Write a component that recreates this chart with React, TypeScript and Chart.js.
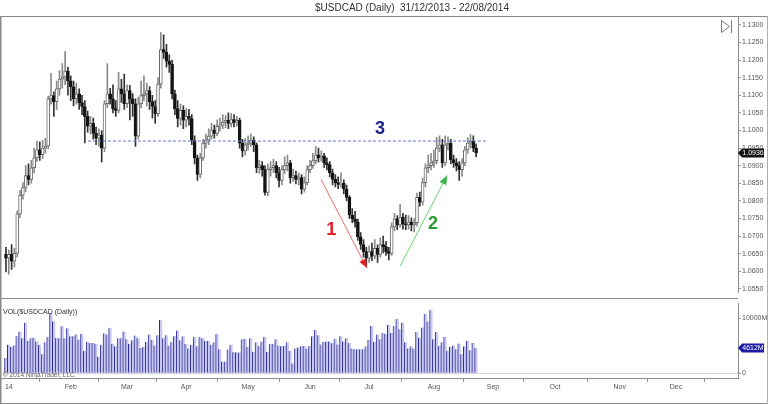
import React, { useEffect, useRef } from "react";
import { Chart, registerables } from "chart.js";
Chart.register(...registerables);

const TITLE = "$USDCAD (Daily)  31/12/2013 - 22/08/2014";
const VOL_TITLE = "VOL($USDCAD (Daily))";
const COPYRIGHT = "© 2014 NinjaTrader, LLC";

const opens = [1.0648,1.0637,1.0648,1.0629,1.0651,1.0763,1.0816,1.0838,1.0872,1.0861,
1.0894,1.0922,1.0945,1.0931,1.0950,1.0956,1.1090,1.1099,1.1082,1.1118,
1.1146,1.1152,1.1169,1.1141,1.1124,1.1090,1.1104,1.1079,1.1068,1.1040,
1.1012,1.1020,1.0992,1.0978,1.0987,1.0950,1.1076,1.1104,1.1090,1.1062,
1.1057,1.1118,1.1104,1.1076,1.1113,1.1090,1.1076,1.0984,1.1076,1.1099,
1.1104,1.1113,1.1082,1.1068,1.1048,1.1132,1.1230,1.1222,1.1197,1.1188,
1.1104,1.1062,1.1034,1.1057,1.1029,1.1040,1.1034,1.0973,1.0922,1.0875,
1.0922,1.0964,1.0973,1.0984,1.1001,1.0992,1.1012,1.1015,1.1023,1.1029,
1.1020,1.1031,1.1023,1.1029,1.0964,1.0942,1.0959,1.0964,1.0973,1.0959,
1.0894,1.0900,1.0889,1.0824,1.0889,1.0894,1.0900,1.0880,1.0858,1.0889,
1.0900,1.0908,1.0866,1.0872,1.0861,1.0866,1.0833,1.0852,1.0889,1.0900,
1.0914,1.0931,1.0922,1.0928,1.0908,1.0903,1.0880,1.0861,1.0852,1.0847,
1.0850,1.0833,1.0810,1.0760,1.0749,1.0740,1.0698,1.0676,1.0656,1.0637,
1.0656,1.0643,1.0665,1.0648,1.0676,1.0670,1.0656,1.0651,1.0726,1.0749,
1.0732,1.0754,1.0735,1.0732,1.0740,1.0732,1.0738,1.0810,1.0796,1.0852,
1.0894,1.0900,1.0908,1.0914,1.0950,1.0959,1.0908,1.0959,1.0964,1.0917,
1.0908,1.0900,1.0889,1.0908,1.0945,1.0964,1.0970,1.0950];

const highs = [1.0668,1.0660,1.0676,1.0665,1.0772,1.0830,1.0852,1.0900,1.0905,1.0915,
1.0950,1.0970,1.0968,1.0972,1.0978,1.1098,1.1162,1.1110,1.1140,1.1170,
1.1190,1.1224,1.1180,1.1155,1.1140,1.1135,1.1118,1.1100,1.1085,1.1055,
1.1040,1.1035,1.1010,1.1005,1.1000,1.1085,1.1190,1.1120,1.1130,1.1085,
1.1165,1.1145,1.1160,1.1130,1.1128,1.1105,1.1090,1.1095,1.1140,1.1155,
1.1135,1.1125,1.1100,1.1085,1.1150,1.1278,1.1272,1.1245,1.1215,1.1200,
1.1115,1.1085,1.1075,1.1070,1.1062,1.1060,1.1045,1.0985,1.0930,1.0935,
1.0975,1.0990,1.1005,1.1020,1.1015,1.1030,1.1035,1.1045,1.1042,1.1050,
1.1048,1.1045,1.1040,1.1035,1.0975,1.0978,1.0985,1.0990,1.0982,1.0965,
1.0915,1.0912,1.0900,1.0905,1.0912,1.0918,1.0912,1.0895,1.0900,1.0925,
1.0930,1.0915,1.0890,1.0885,1.0880,1.0875,1.0868,1.0900,1.0915,1.0935,
1.0955,1.0950,1.0942,1.0935,1.0922,1.0912,1.0890,1.0875,1.0868,1.0880,
1.0860,1.0845,1.0815,1.0778,1.0770,1.0748,1.0710,1.0690,1.0668,1.0672,
1.0680,1.0690,1.0675,1.0695,1.0700,1.0685,1.0668,1.0738,1.0765,1.0758,
1.0790,1.0765,1.0760,1.0758,1.0752,1.0750,1.0822,1.0825,1.0865,1.0905,
1.0930,1.0935,1.0945,1.0980,1.0985,1.0975,1.0985,1.0982,1.0975,1.0930,
1.0920,1.0912,1.0920,1.0955,1.0980,1.0988,1.0985,1.0962];

const lows = [1.0598,1.0592,1.0605,1.0612,1.0640,1.0752,1.0805,1.0826,1.0845,1.0850,
1.0880,1.0912,1.0915,1.0920,1.0935,1.0948,1.1075,1.1040,1.1060,1.1100,
1.1120,1.1130,1.1100,1.1085,1.1070,1.1075,1.1060,1.1045,1.0965,1.0995,
1.0990,1.0975,1.0960,1.0955,1.0911,1.0940,1.1065,1.1075,1.1050,1.1040,
1.1050,1.1080,1.1060,1.1065,1.1030,1.1040,1.0955,1.0975,1.1065,1.1085,
1.1070,1.1060,1.1035,1.1020,1.1040,1.1120,1.1205,1.1180,1.1165,1.1090,
1.1045,1.1010,1.1015,1.1005,1.1010,1.1015,1.0960,1.0905,1.0858,1.0865,
1.0915,1.0950,1.0960,1.0975,1.0978,1.0985,1.0998,1.1005,1.1008,1.1005,
1.1010,1.1010,1.1012,1.0950,1.0925,1.0930,1.0945,1.0955,1.0940,1.0880,
1.0878,1.0870,1.0816,1.0815,1.0870,1.0880,1.0865,1.0840,1.0845,1.0878,
1.0885,1.0850,1.0855,1.0848,1.0845,1.0820,1.0825,1.0845,1.0880,1.0892,
1.0905,1.0910,1.0912,1.0895,1.0888,1.0868,1.0845,1.0840,1.0835,1.0838,
1.0820,1.0800,1.0750,1.0738,1.0725,1.0688,1.0662,1.0640,1.0618,1.0625,
1.0630,1.0635,1.0625,1.0640,1.0652,1.0645,1.0632,1.0645,1.0715,1.0718,
1.0725,1.0720,1.0718,1.0720,1.0715,1.0712,1.0728,1.0785,1.0788,1.0840,
1.0880,1.0888,1.0895,1.0905,1.0940,1.0895,1.0900,1.0945,1.0905,1.0895,
1.0885,1.0858,1.0870,1.0900,1.0935,1.0950,1.0940,1.0925];

const closes = [1.0637,1.0648,1.0629,1.0651,1.0763,1.0816,1.0838,1.0872,1.0861,1.0894,
1.0922,1.0945,1.0931,1.0950,1.0956,1.1090,1.1099,1.1082,1.1118,1.1146,
1.1152,1.1169,1.1141,1.1124,1.1090,1.1104,1.1079,1.1068,1.1040,1.1012,
1.1020,1.0992,1.0978,1.0987,1.0950,1.1076,1.1104,1.1090,1.1062,1.1057,
1.1118,1.1104,1.1076,1.1113,1.1090,1.1076,1.0984,1.1076,1.1099,1.1104,
1.1113,1.1082,1.1068,1.1048,1.1132,1.1230,1.1222,1.1197,1.1188,1.1104,
1.1062,1.1034,1.1057,1.1029,1.1040,1.1034,1.0973,1.0922,1.0875,1.0922,
1.0964,1.0973,1.0984,1.1001,1.0992,1.1012,1.1015,1.1023,1.1029,1.1020,
1.1031,1.1023,1.1029,1.0964,1.0942,1.0959,1.0964,1.0973,1.0959,1.0894,
1.0900,1.0889,1.0824,1.0889,1.0894,1.0900,1.0880,1.0858,1.0889,1.0900,
1.0908,1.0866,1.0872,1.0861,1.0866,1.0833,1.0852,1.0889,1.0900,1.0914,
1.0931,1.0922,1.0928,1.0908,1.0903,1.0880,1.0861,1.0852,1.0847,1.0850,
1.0833,1.0810,1.0760,1.0749,1.0740,1.0698,1.0676,1.0656,1.0637,1.0656,
1.0643,1.0665,1.0648,1.0676,1.0670,1.0656,1.0651,1.0726,1.0749,1.0732,
1.0754,1.0735,1.0732,1.0740,1.0732,1.0738,1.0810,1.0796,1.0852,1.0894,
1.0900,1.0908,1.0914,1.0950,1.0959,1.0908,1.0959,1.0964,1.0917,1.0908,
1.0900,1.0889,1.0908,1.0945,1.0964,1.0970,1.0950,1.0936];

// volume in millions
const volumes = [2800,5200,4800,5050,6740,7580,6350,9160,5900,6350,
6460,5790,5170,3480,5620,6630,10950,9440,6460,6350,
8540,6350,8150,6740,6740,7020,6070,7130,4100,5730,
5510,5510,5340,2980,5170,7250,7020,8260,5340,4890,
6350,6350,7580,6180,5340,6010,6850,6350,4610,4780,
5730,7020,6070,5060,6910,9720,6350,6910,5060,5730,
6740,7750,6010,6740,5340,4490,5170,6570,4890,6630,
6350,5900,5900,5170,5620,7190,4380,2130,2130,4330,
5170,3820,3820,3760,6180,6290,4780,6350,3930,5620,
4940,5790,6630,3930,5340,5340,6180,5060,4890,4940,
5620,4040,1800,4490,4660,4890,4940,4490,4940,6740,
7870,6910,5220,5730,5790,5790,5450,6290,5220,6740,
5790,6350,5510,4490,4380,4380,4380,4380,4890,6070,
8600,5730,7020,6180,7300,7130,8820,7300,8600,9830,
7980,9160,5620,4490,4890,4490,7470,6460,8310,10790,
9380,11520,6180,7470,4940,5620,6630,4040,4780,5060,
4380,5400,3480,4890,5900,4200,5500,4612];

// x axis: bar index of the first trading day of each month
const monthTickBars = [1, 23, 43, 64, 86, 108, 129, 152, 173, 195, 218, 238];
const monthLabels = ["14", "Feb", "Mar", "Apr", "May", "Jun", "Jul", "Aug", "Sep", "Oct", "Nov", "Dec"];
const priceTicks = [1.055,1.06,1.065,1.07,1.075,1.08,1.085,1.09,1.095,1.1,1.105,1.11,1.115,1.12,1.125,1.13];
const volumeTicks = [0, 10000];

// annotations (data coordinates: bar index, price)
const resistancePrice = 1.097;
const resistanceBars = [29.1, 170.9];
const arrowFromBar = [111.9, 140.0];
const arrowFromPrice = [1.0861, 1.0615];
const arrowToBar = [128.2, 156.7];
const arrowToPrice = [1.0609, 1.0872];
const calloutText = ["1", "2", "3"];
const calloutBar = [115.5, 151.7, 132.9];
const calloutPrice = [1.0718, 1.0735, 1.1004];

const X_MIN = -1.42;
const X_MAX = 260.03;
const PRICE_MIN = 1.05389;
const PRICE_MAX = 1.13252;
const VOL_MIN = -847;
const VOL_MAX = 12712;

const FONT = '"Liberation Sans", Arial, sans-serif';
const ARROW_LINE = ["#e86a6a", "#6fd06f"];
const ARROW_HEAD = ["#e01c24", "#39b54a"];
const CALLOUT_COLOR = ["#e3202a", "#2a9a35", "#1d2688"];

function drawFrameLeftRight(ctx: CanvasRenderingContext2D, top: number, bottom: number, w: number) {
  ctx.save();
  ctx.strokeStyle = "#8a8a8a";
  ctx.lineWidth = 1.5;
  ctx.beginPath();
  ctx.moveTo(0.75, top);
  ctx.lineTo(0.75, bottom);
  ctx.stroke();
  ctx.lineWidth = 1;
  ctx.strokeStyle = "#b0b0b0";
  ctx.beginPath();
  ctx.moveTo(w - 0.5, top);
  ctx.lineTo(w - 0.5, bottom);
  ctx.stroke();
  ctx.restore();
}

function drawBadge(ctx: CanvasRenderingContext2D, x: number, y: number, text: string, fill: string) {
  ctx.save();
  ctx.fillStyle = fill;
  ctx.beginPath();
  ctx.moveTo(x, y);
  ctx.lineTo(x + 4, y - 4.5);
  ctx.lineTo(x + 26, y - 4.5);
  ctx.lineTo(x + 26, y + 4.5);
  ctx.lineTo(x + 4, y + 4.5);
  ctx.closePath();
  ctx.fill();
  ctx.fillStyle = "#ffffff";
  ctx.font = `7px ${FONT}`;
  ctx.textAlign = "center";
  ctx.textBaseline = "middle";
  ctx.fillText(text, x + 15, y + 0.5);
  ctx.restore();
}

const pricePlugin = {
  id: "priceDecor",
  afterDatasetsDraw(chart: any) {
    const { ctx, scales } = chart;
    const xs = scales.x;
    const ys = scales.y;
    ctx.save();
    // arrow heads
    for (let i = 0; i < arrowToBar.length; i++) {
      const x0 = xs.getPixelForValue(arrowFromBar[i]);
      const y0 = ys.getPixelForValue(arrowFromPrice[i]);
      const x1 = xs.getPixelForValue(arrowToBar[i]);
      const y1 = ys.getPixelForValue(arrowToPrice[i]);
      const a = Math.atan2(y1 - y0, x1 - x0);
      const len = 9;
      const hw = 3.8;
      const bx = x1 - Math.cos(a) * len;
      const by = y1 - Math.sin(a) * len;
      ctx.fillStyle = ARROW_HEAD[i];
      ctx.beginPath();
      ctx.moveTo(x1, y1);
      ctx.lineTo(bx + Math.sin(a) * hw, by - Math.cos(a) * hw);
      ctx.lineTo(bx - Math.sin(a) * hw, by + Math.cos(a) * hw);
      ctx.closePath();
      ctx.fill();
    }
    // callout numbers
    ctx.font = `bold 18px ${FONT}`;
    ctx.textAlign = "center";
    ctx.textBaseline = "middle";
    for (let i = 0; i < calloutText.length; i++) {
      ctx.fillStyle = CALLOUT_COLOR[i];
      ctx.fillText(calloutText[i], xs.getPixelForValue(calloutBar[i]), ys.getPixelForValue(calloutPrice[i]));
    }
    ctx.restore();
  },
  afterDraw(chart: any) {
    const { ctx, chartArea, scales, width } = chart;
    ctx.save();
    // title
    ctx.fillStyle = "#333";
    ctx.font = `10px ${FONT}`;
    ctx.textAlign = "center";
    ctx.textBaseline = "middle";
    ctx.fillText(TITLE, 412, 8);
    // top frame line
    ctx.strokeStyle = "#8a8a8a";
    ctx.lineWidth = 1;
    ctx.beginPath();
    ctx.moveTo(0, chartArea.top + 0.5);
    ctx.lineTo(width, chartArea.top + 0.5);
    ctx.stroke();
    // jump-to-end icon
    const ix = chartArea.right - 17;
    const iy = chartArea.top + 4;
    ctx.strokeStyle = "#7a7a7a";
    ctx.beginPath();
    ctx.moveTo(ix + 0.5, iy + 0.5);
    ctx.lineTo(ix + 8.5, iy + 6.5);
    ctx.lineTo(ix + 0.5, iy + 12.5);
    ctx.closePath();
    ctx.stroke();
    ctx.beginPath();
    ctx.moveTo(ix + 10.5, iy);
    ctx.lineTo(ix + 10.5, iy + 13);
    ctx.stroke();
    ctx.restore();
    drawFrameLeftRight(ctx, chartArea.top, chart.height, width);
    // last price badge
    const last = closes[closes.length - 1];
    drawBadge(ctx, chartArea.right, scales.y.getPixelForValue(last), last.toFixed(4), "#111111");
  },
};

const volumePlugin = {
  id: "volDecor",
  beforeDatasetsDraw(chart: any) {
    const { ctx, chartArea, scales } = chart;
    const y0 = Math.round(scales.y.getPixelForValue(0)) + 0.5;
    ctx.save();
    ctx.strokeStyle = "#d2d2d2";
    ctx.lineWidth = 1;
    ctx.beginPath();
    ctx.moveTo(chartArea.left, y0);
    ctx.lineTo(chartArea.right, y0);
    ctx.stroke();
    ctx.restore();
  },
  afterDraw(chart: any) {
    const { ctx, chartArea, scales, width, height } = chart;
    ctx.save();
    ctx.strokeStyle = "#8a8a8a";
    ctx.lineWidth = 1;
    ctx.beginPath();
    ctx.moveTo(0, 0.5);
    ctx.lineTo(chartArea.right, 0.5);
    ctx.moveTo(0, chartArea.bottom + 0.5);
    ctx.lineTo(chartArea.left, chartArea.bottom + 0.5);
    ctx.moveTo(0, height - 0.5);
    ctx.lineTo(width, height - 0.5);
    ctx.stroke();
    ctx.fillStyle = "#333";
    ctx.font = `7px ${FONT}`;
    ctx.textAlign = "left";
    ctx.textBaseline = "middle";
    ctx.fillText(VOL_TITLE, chartArea.left + 1, chartArea.top + 9);
    ctx.fillStyle = "#666";
    ctx.font = `6.5px ${FONT}`;
    ctx.fillText(COPYRIGHT, chartArea.left + 1, chartArea.bottom - 3);
    ctx.restore();
    drawFrameLeftRight(ctx, 0, height, width);
    const last = volumes[volumes.length - 1];
    drawBadge(ctx, chartArea.right, scales.y.getPixelForValue(last), last + "M", "#1c1ca6");
  },
};

export default function App() {
  const priceRef = useRef<HTMLCanvasElement | null>(null);
  const volRef = useRef<HTMLCanvasElement | null>(null);

  useEffect(() => {
    if (!priceRef.current || !volRef.current) return;
    const up = (i: number) => closes[i] >= opens[i];

    const priceChart = new Chart(priceRef.current, {
      type: "bar",
      data: {
        datasets: [
          {
            type: "line",
            data: resistanceBars.map((b) => ({ x: b, y: resistancePrice })),
            borderColor: "#6677c8",
            borderWidth: 1,
            borderDash: [3, 2],
            pointRadius: 0,
            order: -1,
          } as any,
          {
            type: "line",
            data: [
              { x: arrowFromBar[0], y: arrowFromPrice[0] },
              { x: arrowToBar[0], y: arrowToPrice[0] },
            ],
            borderColor: ARROW_LINE[0],
            borderWidth: 1,
            pointRadius: 0,
            order: -1,
          } as any,
          {
            type: "line",
            data: [
              { x: arrowFromBar[1], y: arrowFromPrice[1] },
              { x: arrowToBar[1], y: arrowToPrice[1] },
            ],
            borderColor: ARROW_LINE[1],
            borderWidth: 1,
            pointRadius: 0,
            order: -1,
          } as any,
          {
            type: "bar",
            data: opens.map((o, i) => ({ x: i, y: [o, closes[i]] })),
            backgroundColor: opens.map((_, i) => (up(i) ? "#ffffff" : "#141414")),
            borderColor: opens.map((_, i) => (up(i) ? "#6a6a6a" : "#141414")),
            borderWidth: 1,
            borderSkipped: false,
            barThickness: 3,
            minBarLength: 1,
            grouped: false,
            order: 0,
          } as any,
          {
            type: "bar",
            data: lows.map((l, i) => ({ x: i, y: [l, highs[i]] })),
            backgroundColor: opens.map((_, i) => (up(i) ? "#8a8a8a" : "#333333")),
            borderWidth: 0,
            barThickness: 1,
            grouped: false,
            order: 1,
          } as any,
        ],
      },
      options: {
        responsive: false,
        animation: false,
        devicePixelRatio: 1,
        events: [],
        layout: { padding: { left: 2, top: 16, right: 0, bottom: 0 } },
        plugins: { legend: { display: false }, tooltip: { enabled: false }, title: { display: false } },
        scales: {
          x: { type: "linear", min: X_MIN, max: X_MAX, display: false, offset: false },
          y: {
            position: "right",
            min: PRICE_MIN,
            max: PRICE_MAX,
            afterFit: (s: any) => { s.width = 30; },
            afterBuildTicks: (s: any) => { s.ticks = priceTicks.map((v) => ({ value: v })); },
            ticks: {
              callback: (v: any) => Number(v).toFixed(4),
              font: { size: 7, family: FONT },
              color: "#555",
              padding: 1,
            },
            grid: { drawOnChartArea: false, drawTicks: true, tickLength: 3, color: "#999" },
            border: { display: true, color: "#8a8a8a" },
          },
        },
      } as any,
      plugins: [pricePlugin],
    });

    const volChart = new Chart(volRef.current, {
      type: "bar",
      data: {
        datasets: [
          {
            data: volumes.map((v, i) => ({ x: i, y: v })),
            backgroundColor: "#c9c9f4",
            borderColor: "#2e2e90",
            borderWidth: { left: 1, top: 0, right: 0, bottom: 0 },
            borderSkipped: false,
            barThickness: 3,
            grouped: false,
          } as any,
        ],
      },
      options: {
        responsive: false,
        animation: false,
        devicePixelRatio: 1,
        events: [],
        layout: { padding: { left: 2, top: 0, right: 0, bottom: 0 } },
        plugins: { legend: { display: false }, tooltip: { enabled: false } },
        scales: {
          x: {
            type: "linear",
            min: X_MIN,
            max: X_MAX,
            offset: false,
            afterFit: (s: any) => { s.height = 26; },
            afterBuildTicks: (s: any) => { s.ticks = monthTickBars.map((v) => ({ value: v })); },
            ticks: {
              autoSkip: false,
              maxRotation: 0,
              callback: (_v: any, i: number) => monthLabels[i],
              font: { size: 7, family: FONT },
              color: "#555",
              padding: 1,
            },
            grid: { drawOnChartArea: false, drawTicks: true, tickLength: 4, color: "#999" },
            border: { display: true, color: "#8a8a8a" },
          },
          y: {
            position: "right",
            min: VOL_MIN,
            max: VOL_MAX,
            afterFit: (s: any) => { s.width = 30; },
            afterBuildTicks: (s: any) => { s.ticks = volumeTicks.map((v) => ({ value: v })); },
            ticks: {
              callback: (v: any) => (Number(v) === 0 ? "0" : v + "M"),
              font: { size: 7, family: FONT },
              color: "#555",
              padding: 1,
            },
            grid: { drawOnChartArea: false, drawTicks: true, tickLength: 3, color: "#999" },
            border: { display: true, color: "#8a8a8a" },
          },
        },
      } as any,
      plugins: [volumePlugin],
    });

    return () => {
      priceChart.destroy();
      volChart.destroy();
    };
  }, []);

  return (
    <div style={{ position: "fixed", left: 0, top: 0, width: 768, height: 404, background: "#fff" }}>
      <canvas
        ref={priceRef}
        width={768}
        height={298}
        style={{ position: "absolute", left: 0, top: 0, width: 768, height: 298 }}
      />
      <canvas
        ref={volRef}
        width={768}
        height={106}
        style={{ position: "absolute", left: 0, top: 298, width: 768, height: 106 }}
      />
    </div>
  );
}
